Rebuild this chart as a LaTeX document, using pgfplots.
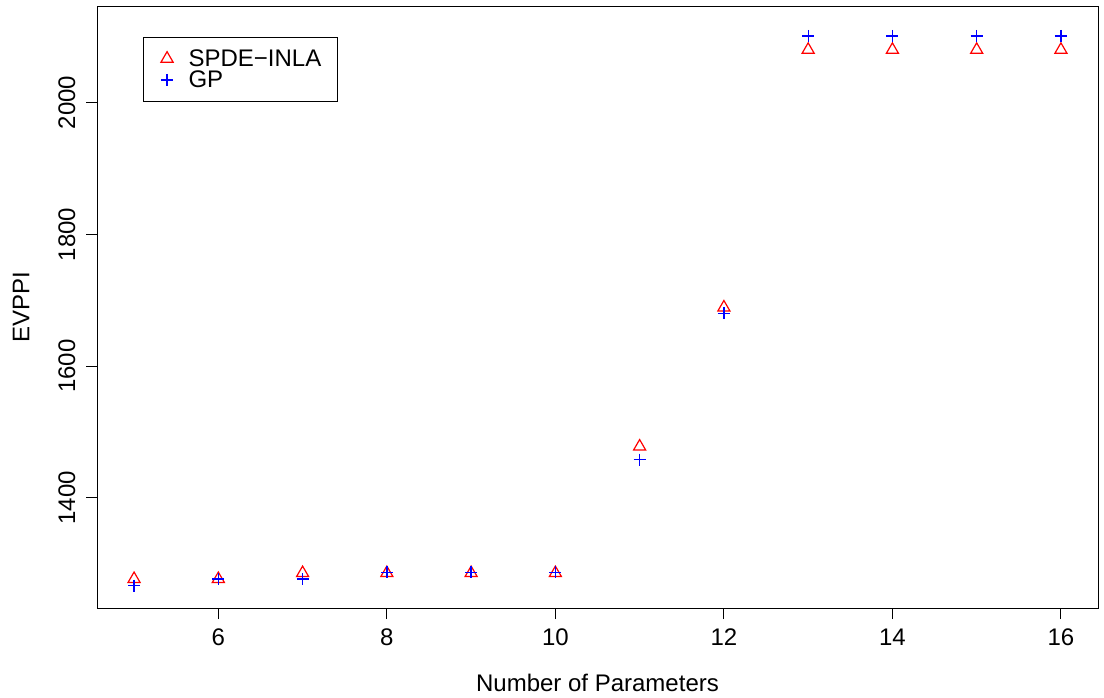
\documentclass[border=0pt]{standalone}
\usepackage{pgfplots}
\pgfplotsset{compat=1.18}
\usepackage{fontspec}
\setmainfont{Liberation Sans}
\newcommand{\fs}{\fontsize{24}{28}\selectfont}
\begin{document}
\begin{tikzpicture}
\begin{axis}[
  scale only axis,
  width=1001pt, height=601pt,
  xmin=4.56, xmax=16.44,
  ymin=1233, ymax=2145,
  axis line style={line width=1pt},
  every tick/.style={black, line width=1pt},
  tick align=outside,
  major tick length=11pt,
  xtick={6,8,...,16},
  ytick={1400,1600,1800,2000},
  xtick pos=bottom, ytick pos=left,
  /pgf/number format/assume math mode=true,
  /pgf/number format/set thousands separator={},
  tick label style={font=\fs},
  yticklabel style={rotate=90, anchor=south},
  xticklabel shift=6pt,
  yticklabel shift=7pt,
  label style={font=\fs},
  xlabel={Number of Parameters},
  ylabel={EVPPI},
  xlabel style={at={(axis description cs:0.5,-0.1248)}, anchor=center},
  ylabel style={at={(axis description cs:-0.0759,0.5)}, anchor=center},
  legend cell align=left,
  legend image code/.code={\path (-8pt,0pt) (6pt,0pt); \draw[#1] plot coordinates {(0pt,0pt)};},
  legend style={at={(rel axis cs:0.046,0.950)}, anchor=north west,
    draw=black, line width=1pt, fill=white, font=\fs,
    inner xsep=15pt, inner ysep=11pt,
    nodes={inner sep=1pt},
    /tikz/column sep=14pt, /tikz/row sep=1pt},
]
\addplot[only marks, color=red, mark=triangle, mark size=7pt, mark options={draw=red, line width=1.2pt}]
  coordinates {(5,1277) (6,1277) (7,1286) (8,1286) (9,1286) (10,1286) (11,1478) (12,1689) (13,2080) (14,2080) (15,2080) (16,2080)};
\addlegendentry{SPDE−INLA}
\addplot[only marks, color=blue, mark=+, mark size=6pt, mark options={draw=blue, line width=1.3pt}]
  coordinates {(5,1267) (6,1277) (7,1277) (8,1287) (9,1287) (10,1287) (11,1458) (12,1680) (13,2101) (14,2101) (15,2101) (16,2101)};
\addlegendentry{GP}
\end{axis}
\pgfresetboundingbox
\useasboundingbox ([xshift=-97pt,yshift=-89pt]current axis.south west) rectangle ([xshift=6pt,yshift=7pt]current axis.north east);
\end{tikzpicture}
\end{document}
